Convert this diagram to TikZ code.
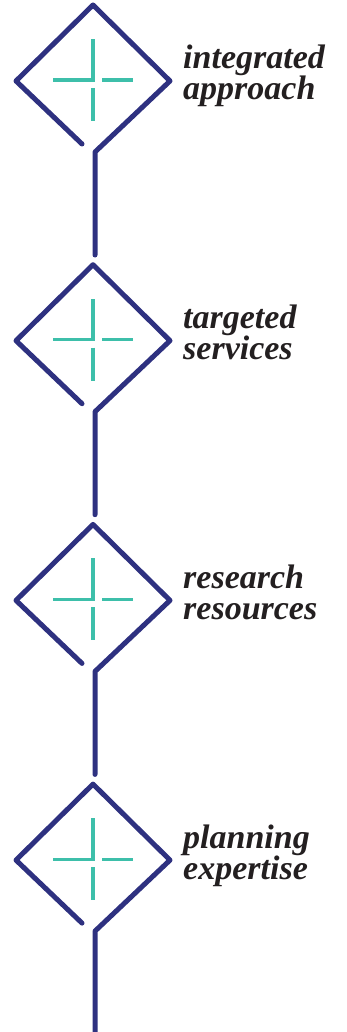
\documentclass[tikz,border=0pt]{standalone}
\usepackage{fontspec}
\setmainfont{Liberation Serif}
\usepackage{xcolor}
\usetikzlibrary{positioning}
\definecolor{marinho}{RGB}{46,49,128}
\definecolor{turquesa}{RGB}{61,191,170}
\definecolor{tinta}{RGB}{35,31,32}

\begin{document}
\begin{tikzpicture}[x=1pt, y=-1pt,
    contorno/.style={line width=5pt, marinho, line join=round, line cap=round},
    cruz/.style={line width=3.2pt, turquesa},
    rotulo/.style={anchor=base west, inner sep=0pt, align=left, text=tinta,
        font=\fontsize{34}{31}\selectfont\bfseries\itshape}]
    % Moldura da figura
    \useasboundingbox (0,0) rectangle (346,1032);

    % Losangos, hastes e rótulos
    \foreach \i/\a/\b in {0/integrated/approach, 1/targeted/services,
                          2/research/resources, 3/planning/expertise} {
        \begin{scope}[shift={(93,{81+259.7*\i})}]
            % Losango aberto e haste
            \draw[contorno] (-11,63) -- (-77,0) -- (0,-76) -- (77,0) -- (2,71) -- (2,174);
            % Cruz interna
            \draw[cruz] (-40,-1) -- (0,-1) -- (0,-42);
            \draw[cruz] (9,-1) -- (40,-1);
            \draw[cruz] (0,7) -- (0,40);
            % Texto (base = linha de baixo)
            \node[rotulo] (rot\i) at (90,19) {\a\\\b};
        \end{scope}
    }
\end{tikzpicture}
\end{document}
